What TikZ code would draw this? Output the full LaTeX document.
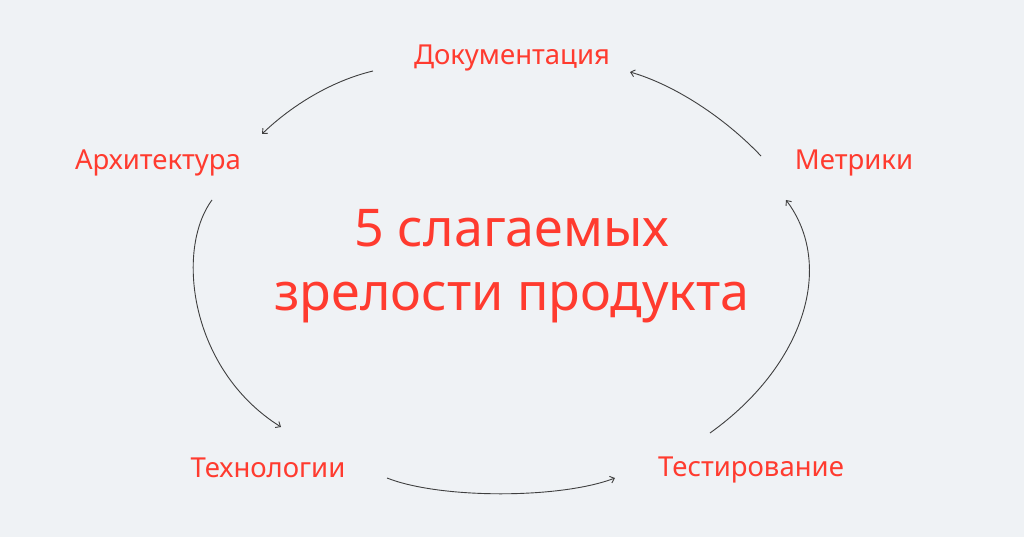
\documentclass[tikz,border=0pt]{standalone}
\usepackage{fontspec}
\setmainfont{Noto Sans}
\usetikzlibrary{arrows.meta}
\definecolor{bg}{HTML}{EFF2F5}
\definecolor{redtxt}{HTML}{FF3B2F}
\definecolor{linec}{HTML}{3F3F3F}
\tikzset{
  lbl/.style={anchor=base, text=redtxt, inner sep=0pt, font=\fontsize{27.5}{32}\selectfont},
  title/.style={anchor=base, text=redtxt, inner sep=0pt, font=\fontsize{52}{60}\selectfont},
  conn/.style={draw=linec, line width=0.9pt, -{Straight Barb[length=4pt,width=7pt]}}
}
\begin{document}
\begin{tikzpicture}[x=1pt,y=-1pt]
\fill[bg] (0,0) rectangle (1024,537);
\useasboundingbox (0,0) rectangle (1024,537);
\node[lbl] (doc) at (512,65) {Документация};
\node[lbl] (arch) at (158,170) {Архитектура};
\node[lbl] (metr) at (854,170) {Метрики};
\node[lbl] (tech) at (268,477) {Технологии};
\node[lbl] (test) at (751,476) {Тестирование};
\node[title] (t1) at (512,246) {5 слагаемых};
\node[title] (t2) at (512,310) {зрелости продукта};
\coordinate (c1a) at (373,71);
\coordinate (c1b) at (262,134);
\coordinate (c2a) at (212,200);
\coordinate (c2b) at (281,427);
\coordinate (c3a) at (387,478);
\coordinate (c3b) at (615,478);
\coordinate (c4a) at (710,433);
\coordinate (c4b) at (786,200);
\coordinate (c5a) at (761,156);
\coordinate (c5b) at (630,72);
\draw[conn] (c1a) .. controls (331,81) and (291,106) .. (c1b);
\draw[conn] (c2a) .. controls (175,250) and (190,370) .. (c2b);
\draw[conn] (c3a) .. controls (440,499) and (560,499) .. (c3b);
\draw[conn] (c4a) .. controls (805,365) and (835,265) .. (c4b);
\draw[conn] (c5a) .. controls (725,118) and (675,85) .. (c5b);
\end{tikzpicture}
\end{document}
